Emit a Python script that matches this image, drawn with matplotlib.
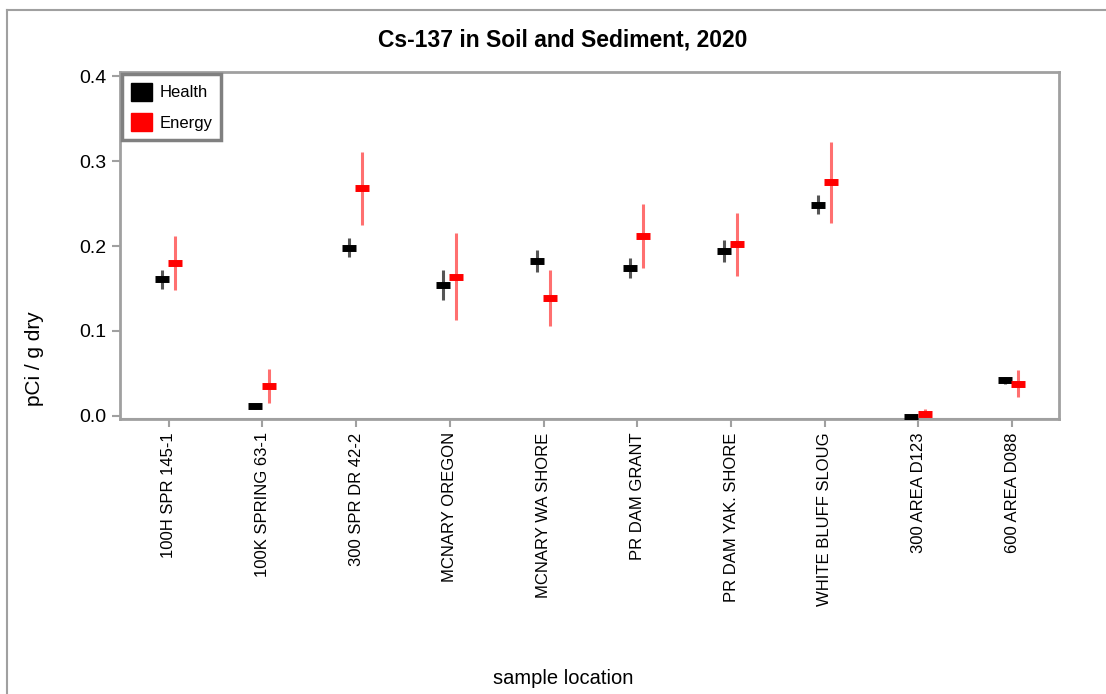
import matplotlib
matplotlib.use('Agg')
import matplotlib.pyplot as plt
from matplotlib.lines import Line2D
from matplotlib.patches import Patch
import numpy as np

plt.rcParams['font.family'] = ['Liberation Sans', 'DejaVu Sans']

locations = ['100H SPR 145-1', '100K SPRING 63-1', '300 SPR DR 42-2', 'MCNARY OREGON',
             'MCNARY WA SHORE', 'PR DAM GRANT', 'PR DAM YAK. SHORE', 'WHITE BLUFF SLOUG',
             '300 AREA D123', '600 AREA D088']
health = [0.161, 0.011, 0.198, 0.154, 0.182, 0.174, 0.194, 0.249, -0.001, 0.042]
health_err = [0.011, 0.003, 0.011, 0.018, 0.013, 0.012, 0.013, 0.011, 0.002, 0.004]
energy = [0.180, 0.035, 0.268, 0.164, 0.139, 0.212, 0.202, 0.275, 0.002, 0.038]
energy_err = [0.032, 0.020, 0.043, 0.051, 0.033, 0.038, 0.037, 0.048, 0.006, 0.016]

grey = '#a0a0a0'

fig = plt.figure(figsize=(11.06, 6.94), dpi=100)
# window frame
fig.add_artist(Line2D([0.006, 0.006], [0, 0.986], color=grey, lw=1.5))
fig.add_artist(Line2D([0.006, 1.0], [0.986, 0.986], color=grey, lw=1.5))

ax = fig.add_axes([0.1085, 0.396, 0.849, 0.5])
x = np.arange(len(locations))

ax.errorbar(x - 0.075, health, yerr=health_err, fmt='none', ecolor='#555555',
            elinewidth=2.2, capsize=0, zorder=2)
ax.errorbar(x + 0.065, energy, yerr=energy_err, fmt='none', ecolor='#ff7070',
            elinewidth=2.2, capsize=0, zorder=2)
ax.plot(x - 0.075, health, linestyle='none', marker='_', markersize=10.5,
        markeredgewidth=5, color='black', zorder=3)
ax.plot(x + 0.065, energy, linestyle='none', marker='_', markersize=10.5,
        markeredgewidth=5, color='red', zorder=3)

ax.set_xlim(-0.52, 9.5)
ax.set_ylim(-0.004, 0.405)
ax.set_yticks([0.0, 0.1, 0.2, 0.3, 0.4])
ax.set_yticklabels(['0.0', '0.1', '0.2', '0.3', '0.4'], fontsize=14)
ax.set_xticks(x)
ax.set_xticklabels(locations, rotation=90, fontsize=12)
ax.tick_params(colors=grey, labelcolor='black', length=6, width=1.5)
for s in ax.spines.values():
    s.set_color(grey)
    s.set_linewidth(2)
ax.axhline(-0.004, color=grey, lw=1.5)

fig.text(0.509, 1 - 40 / 694, 'Cs-137 in Soil and Sediment, 2020', ha='center', va='center',
         fontsize=16.5, fontweight='bold')
fig.text(35 / 1106, 1 - 359 / 694, 'pCi / g dry', rotation=90, ha='center', va='center',
         fontsize=15)
fig.text(0.509, 1 - 678 / 694, 'sample location', ha='center', va='center', fontsize=14.5)

handles = [Patch(facecolor='black', edgecolor='black'), Patch(facecolor='red', edgecolor='red')]
leg = ax.legend(handles, ['Health', 'Energy'], loc='upper left', bbox_to_anchor=(0.0, 1.0),
                fontsize=12, handlelength=1.25, handleheight=1.25, handletextpad=0.45,
                borderpad=0.55, labelspacing=0.75, fancybox=False, framealpha=1,
                borderaxespad=0.1)
leg.get_frame().set_edgecolor('#808080')
leg.get_frame().set_linewidth(2.5)

fig.savefig('out.png', dpi=100)
